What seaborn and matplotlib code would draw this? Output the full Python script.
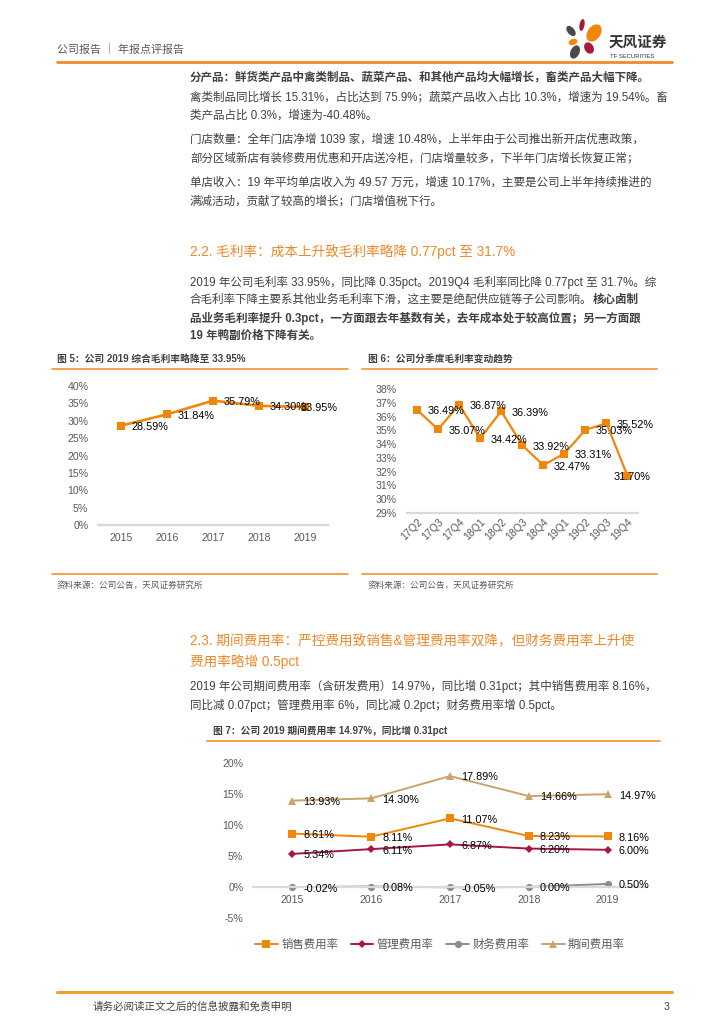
import numpy as np
import pandas as pd
import matplotlib
matplotlib.use('Agg')
import matplotlib.pyplot as plt
import seaborn as sns
from matplotlib.patches import Ellipse

# ---------------- data ----------------
years = ['2015', '2016', '2017', '2018', '2019']
gross_margin = [28.59, 31.84, 35.79, 34.30, 33.95]

quarters = ['17Q2', '17Q3', '17Q4', '18Q1', '18Q2', '18Q3', '18Q4',
            '19Q1', '19Q2', '19Q3', '19Q4']
quarter_margin = [36.49, 35.07, 36.87, 34.42, 36.39, 33.92, 32.47,
                  33.31, 35.03, 35.52, 31.70]

series_names = ['销售费用率', '管理费用率', '财务费用率', '期间费用率']
sales_rate = [8.61, 8.11, 11.07, 8.23, 8.16]
admin_rate = [5.34, 6.11, 6.87, 6.20, 6.00]
fin_rate = [-0.02, 0.08, -0.05, 0.00, 0.50]
period_rate = [13.93, 14.30, 17.89, 14.66, 14.97]

fig5_yticks = [0, 5, 10, 15, 20, 25, 30, 35, 40]
fig6_yticks = [29, 30, 31, 32, 33, 34, 35, 36, 37, 38]
fig7_yticks = [-5, 0, 5, 10, 15, 20]

# ---------------- style ----------------
sns.set_theme(style='white')
plt.rcParams['font.family'] = ['Liberation Sans', 'Noto Sans CJK SC', 'DejaVu Sans']
plt.rcParams['axes.unicode_minus'] = False

ORANGE = '#F0870A'
CRIMSON = '#A8173C'
GRAY = '#8C8C8C'
TAN = '#C9A46A'
TXT = '#404040'
TICK = '#595959'
HEAD = '#F0882A'
RULE = '#F39A3B'
AXLINE = '#D9D9D9'

W, H = 724, 1024
BODY = 8.3
fig = plt.figure(figsize=(W / 100, H / 100), dpi=100)


def fx(x):
    return x / W


def fy(y):
    return 1 - y / H


def text(x, y, s, size=BODY, color=TXT, weight='normal', ha='left', **kw):
    return fig.text(fx(x), fy(y), s, fontsize=size, color=color, weight=weight,
                    ha=ha, va='center', **kw)


def hline(x0, x1, y, color=RULE, lw=1.3):
    fig.add_artist(plt.Line2D([fx(x0), fx(x1)], [fy(y), fy(y)],
                              transform=fig.transFigure, color=color, lw=lw))


renderer = fig.canvas.get_renderer()


def runs(x, y, parts, size=BODY):
    cur = x
    for s, wgt in parts:
        t = text(cur, y, s, size=size, weight=wgt)
        bb = t.get_window_extent(renderer)
        cur += bb.width


# ---------------- header ----------------
text(57, 49, '公司报告 ｜ 年报点评报告', size=7.9, color=TICK)
hline(57, 672, 62, color='#F08C28', lw=2.0)

logo = fig.add_axes([fx(563), fy(63), 46 / W, 46 / H])
logo.set_xlim(0, 46)
logo.set_ylim(46, 0)
logo.axis('off')
petals = [
    (19, 8, 5, 12, 10, CRIMSON),
    (8, 14, 7, 12, -40, '#4A4A4A'),
    (31, 16, 13, 19, 35, ORANGE),
    (10, 25, 9, 6, -20, ORANGE),
    (26, 31, 9, 12, -30, CRIMSON),
    (12, 35, 9, 14, 25, '#4A4A4A'),
]
for cx, cy, w, h, ang, c in petals:
    logo.add_patch(Ellipse((cx, cy), w, h, angle=ang, color=c, lw=0))

text(609, 43, '天风证券', size=10.5, color='#333333', weight='bold')
text(610, 56, 'TF SECURITIES', size=4.2, color='#333333')

# ---------------- body text ----------------
runs(190, 78, [('分产品：鲜货类产品中禽类制品、蔬菜产品、和其他产品均大幅增长，畜类产品大幅下降。', 'bold')])
text(190, 97, '禽类制品同比增长 15.31%，占比达到 75.9%；蔬菜产品收入占比 10.3%，增速为 19.54%。畜')
text(190, 116, '类产品占比 0.3%，增速为-40.48%。')

text(190, 140, '门店数量：全年门店净增 1039 家，增速 10.48%，上半年由于公司推出新开店优惠政策，')
text(190, 158, '部分区域新店有装修费用优惠和开店送冷柜，门店增量较多，下半年门店增长恢复正常；')

text(190, 183, '单店收入：19 年平均单店收入为 49.57 万元，增速 10.17%，主要是公司上半年持续推进的')
text(190, 201, '满减活动，贡献了较高的增长；门店增值税下行。')

text(190, 252, '2.2. 毛利率：成本上升致毛利率略降 0.77pct 至 31.7%', size=9.8, color=HEAD)

text(190, 282, '2019 年公司毛利率 33.95%，同比降 0.35pct。2019Q4 毛利率同比降 0.77pct 至 31.7%。综')
runs(190, 300, [('合毛利率下降主要系其他业务毛利率下滑，这主要是绝配供应链等子公司影响。', 'normal'),
                ('核心卤制', 'bold')])
text(190, 318, '品业务毛利率提升 0.3pct，一方面跟去年基数有关，去年成本处于较高位置；另一方面跟', weight='bold')
text(190, 336, '19 年鸭副价格下降有关。', weight='bold')

# figure titles
text(57, 359, '图 5：公司 2019 综合毛利率略降至 33.95%', size=7, weight='bold')
hline(52, 348, 369)
text(368, 359, '图 6：公司分季度毛利率变动趋势', size=7, weight='bold')
hline(362, 657, 369)

hline(52, 348, 574)
text(57, 585, '资料来源：公司公告，天风证券研究所', size=6.2, color=TICK)
hline(362, 657, 574)
text(368, 585, '资料来源：公司公告，天风证券研究所', size=6.2, color=TICK)

text(190, 641, '2.3. 期间费用率：严控费用致销售&管理费用率双降，但财务费用率上升使', size=9.8, color=HEAD)
text(190, 662, '费用率略增 0.5pct', size=9.8, color=HEAD)

text(190, 686, '2019 年公司期间费用率（含研发费用）14.97%，同比增 0.31pct；其中销售费用率 8.16%，')
text(190, 705, '同比减 0.07pct；管理费用率 6%，同比减 0.2pct；财务费用率增 0.5pct。')

text(213, 731, '图 7：公司 2019 期间费用率 14.97%，同比增 0.31pct', size=7, weight='bold')
hline(207, 660, 741)

# footer
hline(57, 672, 992, color='#F0A030', lw=2.2)
text(93, 1007, '请务必阅读正文之后的信息披露和免责申明', size=7.6, color=TXT)
text(664, 1007, '3', size=7.6, color=TXT)


# ---------------- charts ----------------
def style_axis(ax, yticks, ylabels_fmt='{}%'):
    ax.set_yticks(yticks)
    ax.set_yticklabels([ylabels_fmt.format(t) for t in yticks])
    for side in ['left', 'right', 'top']:
        ax.spines[side].set_visible(False)
    ax.spines['bottom'].set_color(AXLINE)
    ax.spines['bottom'].set_linewidth(1.6)
    ax.tick_params(axis='both', length=0, colors=TICK, labelsize=7.6)
    ax.tick_params(axis='y', pad=7)
    ax.set_xlabel('')
    ax.set_ylabel('')
    ax.grid(False)
    ax.set_facecolor('none')


def add_labels(ax, xs, vals, last_ha='left', last_dx=7.5, dx=7.5):
    n = len(vals)
    for i, (xv, v) in enumerate(zip(xs, vals)):
        ha, d = ('left', dx)
        if i == n - 1:
            ha, d = last_ha, last_dx
        ax.annotate(f'{v:.2f}%', (xv, v), xytext=(d, -1), textcoords='offset points',
                    ha=ha, va='center', fontsize=7.8, color='black')


# Figure 5
ax5 = fig.add_axes([fx(98), fy(525), (328 - 98) / W, (525 - 386) / H])
x5 = np.arange(len(years))
sns.lineplot(x=x5, y=gross_margin, ax=ax5, color=ORANGE, linewidth=1.9,
             marker='s', markersize=6.2, markeredgewidth=0)
ax5.set_xlim(-0.5, len(years) - 0.5)
ax5.set_ylim(0, 40)
ax5.set_xticks(x5)
ax5.set_xticklabels(years)
style_axis(ax5, fig5_yticks)
ax5.tick_params(axis='x', pad=6)
add_labels(ax5, x5, gross_margin, last_ha='left', last_dx=-3)

# Figure 6
ax6 = fig.add_axes([fx(406.5), fy(513), (638 - 406.5) / W, (513 - 389) / H])
x6 = np.arange(len(quarters))
sns.lineplot(x=x6, y=quarter_margin, ax=ax6, color=ORANGE, linewidth=1.6,
             marker='s', markersize=6.2, markeredgewidth=0)
ax6.set_xlim(-0.5, len(quarters) - 0.5)
ax6.set_ylim(29, 38)
ax6.set_xticks(x6)
ax6.set_xticklabels(quarters, rotation=45, ha='right', rotation_mode='anchor')
style_axis(ax6, fig6_yticks)
ax6.tick_params(axis='x', pad=3)
add_labels(ax6, x6, quarter_margin, last_ha='center', last_dx=3)

# Figure 7
ax7 = fig.add_axes([fx(253), fy(918), (647 - 253) / W, (918 - 763) / H])
x7 = np.arange(len(years))
specs = [
    (sales_rate, ORANGE, 's', 5.2),
    (admin_rate, CRIMSON, 'D', 4.2),
    (fin_rate, GRAY, 'o', 5.2),
    (period_rate, TAN, '^', 6.0),
]
for name, (vals, col, mk, ms) in zip(series_names, specs):
    sns.lineplot(x=x7, y=vals, ax=ax7, color=col, linewidth=1.4, marker=mk,
                 markersize=ms, markeredgewidth=0, label=name)
ax7.set_xlim(-0.5, len(years) - 0.5)
ax7.set_ylim(-5, 20)
ax7.set_xticks(x7)
ax7.set_xticklabels(years)
style_axis(ax7, fig7_yticks)
ax7.spines['bottom'].set_position(('data', 0))
ax7.tick_params(axis='x', pad=6)
for vals, col, mk, ms in specs:
    for xv, v in zip(x7, vals):
        ax7.annotate(f'{v:.2f}%', (xv, v), xytext=(8, -1), textcoords='offset points',
                     ha='left', va='center', fontsize=7.8, color='black')
handles, labels = ax7.get_legend_handles_labels()
ax7.legend(handles, labels, loc='center', bbox_to_anchor=(fx(440), fy(944)),
           bbox_transform=fig.transFigure, ncol=4, frameon=False, fontsize=8.2,
           handlelength=2.0, handletextpad=0.3, columnspacing=1.1, labelcolor=TICK)

fig.savefig('out.png', dpi=100)
